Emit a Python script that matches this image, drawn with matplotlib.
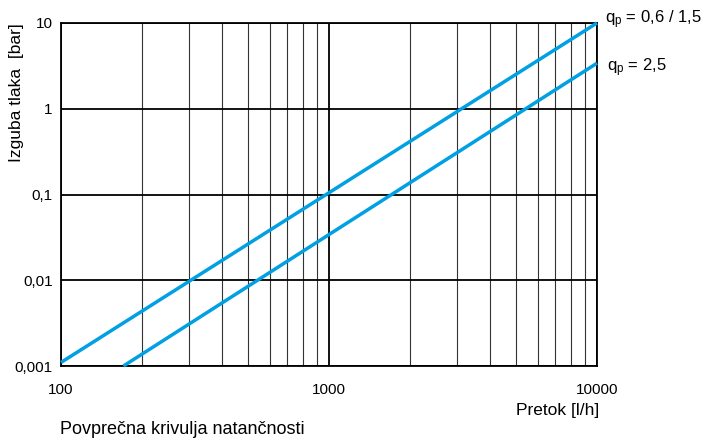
import matplotlib
matplotlib.use("Agg")
import matplotlib.pyplot as plt
from matplotlib.ticker import FixedLocator, NullFormatter

plt.rcParams['font.family'] = ['Liberation Sans', 'DejaVu Sans']
plt.rcParams['mathtext.fontset'] = 'custom'
plt.rcParams['mathtext.rm'] = 'Liberation Sans'
plt.rcParams['mathtext.it'] = 'Liberation Sans'

# krivulje izgube tlaka (pretok l/h -> bar)
flow_a = [100, 10000]
loss_a = [0.0011, 10]
flow_b = [171, 10000]
loss_b = [0.001, 3.4]

x_ticks = [100, 1000, 10000]
x_labels = ["100", "1000", "10000"]
y_ticks = [0.001, 0.01, 0.1, 1, 10]
y_labels = ["0,001", "0,01", "0,1", "1", "10"]
curve_labels = ["q$_\\mathrm{p}$ = 0,6 / 1,5", "q$_\\mathrm{p}$ = 2,5"]

BLUE = "#00a0e3"

fig = plt.figure(figsize=(7.04, 4.41), dpi=100)
ax = fig.add_axes([61 / 704, 1 - 366 / 441, (597 - 61) / 704, (366 - 23) / 441])

ax.set_xscale("log")
ax.set_yscale("log")
ax.set_xlim(100, 10000)
ax.set_ylim(0.001, 10)

# mreza
minor_x = [m * 10 ** d for d in (2, 3) for m in range(2, 10)]
ax.xaxis.set_minor_locator(FixedLocator(minor_x))
ax.xaxis.set_minor_formatter(NullFormatter())
ax.yaxis.set_minor_locator(FixedLocator([]))
ax.set_xticks(x_ticks, x_labels)
ax.set_yticks(y_ticks, y_labels)
ax.grid(which="major", color="black", lw=1.3)
ax.grid(which="minor", axis="x", color="#333333", lw=0.8)
ax.tick_params(which="both", length=0, labelsize=11)
ax.tick_params(axis="x", pad=12)
ax.tick_params(axis="y", pad=6)
for s in ax.spines.values():
    s.set_linewidth(1.3)

ax.plot(flow_a, loss_a, color=BLUE, lw=2.5, solid_capstyle="butt", clip_on=False, zorder=3)
ax.plot(flow_b, loss_b, color=BLUE, lw=2.5, solid_capstyle="butt", clip_on=False, zorder=3)

fig.text(605 / 704, 1 - 20 / 441, curve_labels[0], fontsize=12, va="center", ha="left")
fig.text(607 / 704, 1 - 68 / 441, curve_labels[1], fontsize=12, va="center", ha="left")

fig.text(17 / 704, 1 - 93 / 441, "Izguba tlaka  [bar]", rotation=90, fontsize=12.5,
         va="center", ha="center")
fig.text(599 / 704, 1 - 410 / 441, "Pretok [l/h]", fontsize=12.5, va="center", ha="right")
fig.text(60 / 704, 1 - 430 / 441, "Povprečna krivulja natančnosti", fontsize=13,
         va="center", ha="left")

fig.savefig("out.png", dpi=100)
